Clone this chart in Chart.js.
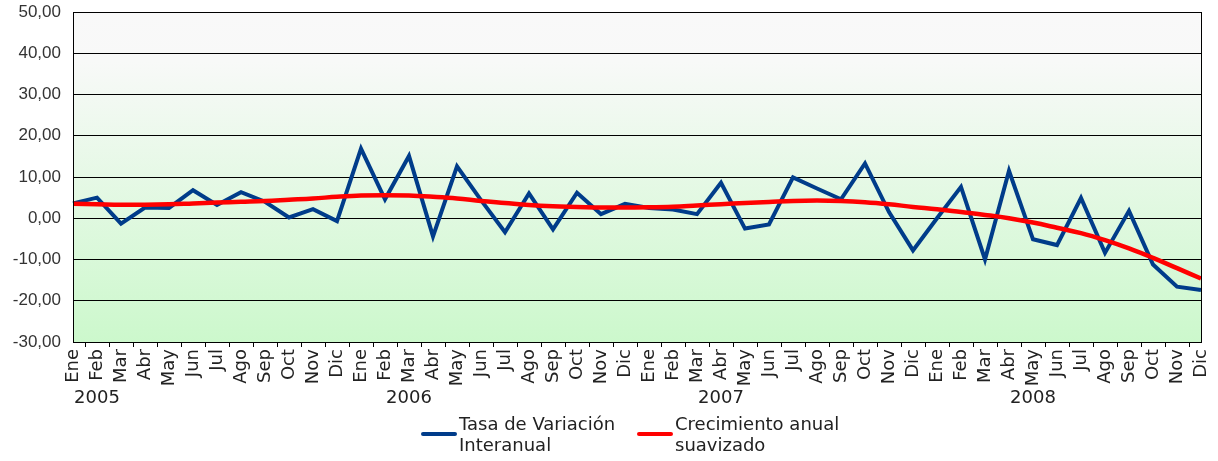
<!DOCTYPE html>
<html>
<head>
<meta charset="utf-8">
<script src="https://cdn.jsdelivr.net/npm/chart.js@4"></script>
<style>
  html, body { margin: 0; padding: 0; background: #fff; }
  #wrap { position: relative; width: 1218px; height: 461px; }
  #legend { position: absolute; top: 413px; left: 421px; font-family: "DejaVu Sans", sans-serif; font-size: 18px; color: #222; line-height: 21px; }
  .item { position: absolute; top: 0; white-space: nowrap; }
  .item .mk { position: absolute; top: 19px; width: 36px; height: 4px; border-radius: 2px; }
  .item .tx { position: absolute; left: 38px; top: 0; }
</style>
</head>
<body>
<div id="wrap">
  <canvas id="chart" width="1218" height="461"></canvas>
  <div id="legend"></div>
</div>
<script>
const months = ['Ene', 'Feb', 'Mar', 'Abr', 'May', 'Jun', 'Jul', 'Ago', 'Sep', 'Oct', 'Nov', 'Dic'];
const years = ['2005', '2006', '2007', '2008'];
// posicion (indice de mes) de la etiqueta de cada año
const yearPos = [1, 14, 27, 40];

const tasa = [3.6, 5.0, -1.3, 2.6, 2.5, 6.8, 3.2, 6.3, 4.0, 0.2, 2.2, -0.7,
  16.9, 4.6, 15.1, -4.4, 12.6, 4.4, -3.4, 6.0, -2.7, 6.2, 1.0, 3.5,
  2.5, 2.1, 1.0, 8.6, -2.5, -1.5, 9.9, 7.2, 4.6, 13.3, 1.5, -7.8,
  0.0, 7.6, -10.0, 11.5, -5.1, -6.5, 4.9, -8.4, 1.8, -11.2, -16.6, -17.4];

const suavizado = [3.5, 3.4, 3.3, 3.3, 3.4, 3.6, 3.8, 4.0, 4.2, 4.5, 4.8, 5.2,
  5.5, 5.6, 5.5, 5.2, 4.8, 4.2, 3.7, 3.2, 2.9, 2.75, 2.6, 2.6,
  2.65, 2.8, 3.1, 3.4, 3.7, 3.95, 4.2, 4.3, 4.2, 3.9, 3.4, 2.75,
  2.2, 1.5, 0.8, 0.0, -1.05, -2.3, -3.6, -5.3, -7.3, -9.6, -12.1, -14.6];

const seriesNames = [['Tasa de Variación', 'Interanual'], ['Crecimiento anual', 'suavizado']];
const seriesColors = ['#003C8A', '#FF0000'];

const yMin = -30, yMax = 50, yStep = 10;

const labels = [];
years.forEach(() => months.forEach(m => labels.push(m)));
const yearLabels = labels.map(() => '');
yearPos.forEach((p, i) => { yearLabels[p] = years[i]; });

// sin relleno automatico alrededor de los ejes
function noPad(scale) {
  scale.paddingTop = 0;
  scale.paddingBottom = 0;
  scale.paddingLeft = 0;
  scale.paddingRight = 0;
}

// fondo degradado y marco del area del grafico
const plotArea = {
  id: 'plotArea',
  beforeDraw(chart) {
    const { ctx, chartArea: a } = chart;
    const g = ctx.createLinearGradient(0, a.top, 0, a.bottom);
    g.addColorStop(0, '#f9f9f9');
    g.addColorStop(0.15, '#f8f9f8');
    g.addColorStop(1, '#ccf8cc');
    ctx.save();
    ctx.fillStyle = g;
    ctx.fillRect(a.left, a.top, a.right - a.left, a.bottom - a.top);
    ctx.restore();
  },
  afterDraw(chart) {
    const { ctx, chartArea: a } = chart;
    ctx.save();
    ctx.strokeStyle = '#000';
    ctx.lineWidth = 1;
    ctx.strokeRect(Math.round(a.left) + 0.5, Math.round(a.top) + 0.5,
      Math.round(a.right - a.left), Math.round(a.bottom - a.top));
    ctx.restore();
  }
};

new Chart(document.getElementById('chart'), {
  type: 'line',
  data: {
    labels: labels,
    datasets: [
      {
        label: seriesNames[0].join(' '),
        data: tasa,
        borderColor: seriesColors[0],
        borderWidth: 4,
        pointRadius: 0,
        tension: 0,
        order: 2
      },
      {
        label: seriesNames[1].join(' '),
        data: suavizado,
        borderColor: seriesColors[1],
        borderWidth: 4.5,
        pointRadius: 0,
        tension: 0.4,
        order: 1
      }
    ]
  },
  options: {
    responsive: false,
    animation: false,
    layout: { autoPadding: false, padding: { left: 0, right: 17, top: 12, bottom: 53 } },
    plugins: {
      legend: { display: false },
      tooltip: { enabled: false }
    },
    scales: {
      x: {
        type: 'category',
        offset: false,
        grid: { display: true, drawOnChartArea: false, offset: true, color: '#000', tickLength: 5 },
        border: { display: false },
        ticks: {
          autoSkip: false, maxRotation: 90, minRotation: 90, padding: 2,
          color: '#222', font: { family: 'DejaVu Sans', size: 18 }
        },
        afterFit(scale) { scale.height = 44; noPad(scale); }
      },
      x2: {
        type: 'category',
        labels: yearLabels,
        position: 'bottom',
        offset: false,
        grid: { display: false, drawTicks: false },
        border: { display: false },
        ticks: {
          autoSkip: false, maxRotation: 0, minRotation: 0, padding: 2,
          color: '#222', font: { family: 'DejaVu Sans', size: 18 }
        },
        afterFit(scale) { scale.height = 22; noPad(scale); }
      },
      y: {
        min: yMin,
        max: yMax,
        grid: { color: '#000', lineWidth: 1, drawTicks: false },
        border: { display: false },
        ticks: {
          stepSize: yStep, padding: 12, color: '#333',
          font: { family: 'Liberation Sans', size: 17 },
          callback: v => v.toFixed(2).replace('.', ',')
        },
        afterFit(scale) { scale.width = 73; noPad(scale); }
      }
    }
  },
  plugins: [plotArea]
});

// leyenda en HTML (texto de dos lineas)
const legend = document.getElementById('legend');
const legendX = [0, 216];
seriesNames.forEach((name, i) => {
  const it = document.createElement('div');
  it.className = 'item';
  it.style.left = legendX[i] + 'px';
  it.innerHTML = '<div class="mk" style="background:' + seriesColors[i] + '"></div><div class="tx">' + name.join('<br>') + '</div>';
  legend.appendChild(it);
});
</script>
</body>
</html>
